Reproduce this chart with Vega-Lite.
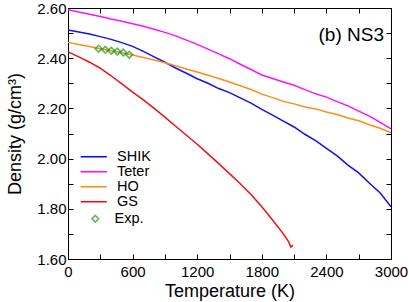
{
  "$schema": "https://vega.github.io/schema/vega-lite/v6.json",
  "width": 323,
  "height": 251,
  "autosize": {"type": "none"},
  "padding": {"left": 68, "top": 8, "right": 18, "bottom": 43},
  "background": "white",
  "config": {
    "font": "Liberation Sans",
    "view": {"stroke": "black", "strokeWidth": 1},
    "axis": {"grid": false, "domainColor": "black", "tickColor": "black", "labelColor": "black", "titleColor": "black", "labelFont": "Liberation Sans", "titleFont": "Liberation Sans", "titleFontWeight": "normal", "labelFontSize": 15, "titleFontSize": 18, "tickSize": -5, "tickWidth": 1, "domainWidth": 1},
    "legend": {"labelFont": "Liberation Sans", "labelFontSize": 14.5, "labelColor": "black"}
  },
  "datasets": {
    "curves": [
      {"model": "SHIK", "T": 0, "d": 2.512}, {"model": "SHIK", "T": 100, "d": 2.504}, {"model": "SHIK", "T": 200, "d": 2.496}, {"model": "SHIK", "T": 300, "d": 2.486}, {"model": "SHIK", "T": 400, "d": 2.475}, {"model": "SHIK", "T": 500, "d": 2.462}, {"model": "SHIK", "T": 600, "d": 2.447}, {"model": "SHIK", "T": 700, "d": 2.427}, {"model": "SHIK", "T": 800, "d": 2.405}, {"model": "SHIK", "T": 900, "d": 2.384}, {"model": "SHIK", "T": 1000, "d": 2.361}, {"model": "SHIK", "T": 1100, "d": 2.340}, {"model": "SHIK", "T": 1200, "d": 2.318}, {"model": "SHIK", "T": 1300, "d": 2.300}, {"model": "SHIK", "T": 1400, "d": 2.279}, {"model": "SHIK", "T": 1500, "d": 2.263}, {"model": "SHIK", "T": 1600, "d": 2.242}, {"model": "SHIK", "T": 1700, "d": 2.221}, {"model": "SHIK", "T": 1800, "d": 2.196}, {"model": "SHIK", "T": 1900, "d": 2.173}, {"model": "SHIK", "T": 2000, "d": 2.149}, {"model": "SHIK", "T": 2100, "d": 2.126}, {"model": "SHIK", "T": 2200, "d": 2.097}, {"model": "SHIK", "T": 2300, "d": 2.072}, {"model": "SHIK", "T": 2400, "d": 2.041}, {"model": "SHIK", "T": 2500, "d": 2.011}, {"model": "SHIK", "T": 2600, "d": 1.974}, {"model": "SHIK", "T": 2700, "d": 1.943}, {"model": "SHIK", "T": 2800, "d": 1.902}, {"model": "SHIK", "T": 2900, "d": 1.863}, {"model": "SHIK", "T": 3000, "d": 1.808},
      {"model": "Teter", "T": 0, "d": 2.593}, {"model": "Teter", "T": 100, "d": 2.584}, {"model": "Teter", "T": 200, "d": 2.575}, {"model": "Teter", "T": 300, "d": 2.566}, {"model": "Teter", "T": 400, "d": 2.556}, {"model": "Teter", "T": 500, "d": 2.547}, {"model": "Teter", "T": 600, "d": 2.537}, {"model": "Teter", "T": 700, "d": 2.527}, {"model": "Teter", "T": 800, "d": 2.515}, {"model": "Teter", "T": 900, "d": 2.503}, {"model": "Teter", "T": 1000, "d": 2.489}, {"model": "Teter", "T": 1100, "d": 2.472}, {"model": "Teter", "T": 1200, "d": 2.455}, {"model": "Teter", "T": 1300, "d": 2.436}, {"model": "Teter", "T": 1400, "d": 2.417}, {"model": "Teter", "T": 1500, "d": 2.398}, {"model": "Teter", "T": 1600, "d": 2.376}, {"model": "Teter", "T": 1700, "d": 2.355}, {"model": "Teter", "T": 1800, "d": 2.333}, {"model": "Teter", "T": 1900, "d": 2.319}, {"model": "Teter", "T": 2000, "d": 2.305}, {"model": "Teter", "T": 2100, "d": 2.292}, {"model": "Teter", "T": 2200, "d": 2.275}, {"model": "Teter", "T": 2300, "d": 2.258}, {"model": "Teter", "T": 2400, "d": 2.245}, {"model": "Teter", "T": 2500, "d": 2.227}, {"model": "Teter", "T": 2600, "d": 2.210}, {"model": "Teter", "T": 2700, "d": 2.189}, {"model": "Teter", "T": 2800, "d": 2.169}, {"model": "Teter", "T": 2900, "d": 2.144}, {"model": "Teter", "T": 3000, "d": 2.118},
      {"model": "HO", "T": 0, "d": 2.463}, {"model": "HO", "T": 100, "d": 2.455}, {"model": "HO", "T": 200, "d": 2.447}, {"model": "HO", "T": 300, "d": 2.438}, {"model": "HO", "T": 400, "d": 2.430}, {"model": "HO", "T": 500, "d": 2.422}, {"model": "HO", "T": 600, "d": 2.413}, {"model": "HO", "T": 700, "d": 2.403}, {"model": "HO", "T": 800, "d": 2.393}, {"model": "HO", "T": 900, "d": 2.382}, {"model": "HO", "T": 1000, "d": 2.370}, {"model": "HO", "T": 1100, "d": 2.357}, {"model": "HO", "T": 1200, "d": 2.345}, {"model": "HO", "T": 1300, "d": 2.332}, {"model": "HO", "T": 1400, "d": 2.319}, {"model": "HO", "T": 1500, "d": 2.305}, {"model": "HO", "T": 1600, "d": 2.290}, {"model": "HO", "T": 1700, "d": 2.275}, {"model": "HO", "T": 1800, "d": 2.257}, {"model": "HO", "T": 1900, "d": 2.243}, {"model": "HO", "T": 2000, "d": 2.228}, {"model": "HO", "T": 2100, "d": 2.218}, {"model": "HO", "T": 2200, "d": 2.206}, {"model": "HO", "T": 2300, "d": 2.198}, {"model": "HO", "T": 2400, "d": 2.186}, {"model": "HO", "T": 2500, "d": 2.176}, {"model": "HO", "T": 2600, "d": 2.162}, {"model": "HO", "T": 2700, "d": 2.151}, {"model": "HO", "T": 2800, "d": 2.135}, {"model": "HO", "T": 2900, "d": 2.121}, {"model": "HO", "T": 3000, "d": 2.103},
      {"model": "GS", "T": 0, "d": 2.425}, {"model": "GS", "T": 100, "d": 2.405}, {"model": "GS", "T": 200, "d": 2.384}, {"model": "GS", "T": 300, "d": 2.360}, {"model": "GS", "T": 400, "d": 2.330}, {"model": "GS", "T": 500, "d": 2.298}, {"model": "GS", "T": 600, "d": 2.265}, {"model": "GS", "T": 700, "d": 2.234}, {"model": "GS", "T": 800, "d": 2.200}, {"model": "GS", "T": 900, "d": 2.165}, {"model": "GS", "T": 1000, "d": 2.129}, {"model": "GS", "T": 1100, "d": 2.093}, {"model": "GS", "T": 1200, "d": 2.057}, {"model": "GS", "T": 1300, "d": 2.019}, {"model": "GS", "T": 1400, "d": 1.980}, {"model": "GS", "T": 1500, "d": 1.940}, {"model": "GS", "T": 1600, "d": 1.900}, {"model": "GS", "T": 1700, "d": 1.857}, {"model": "GS", "T": 1800, "d": 1.808}, {"model": "GS", "T": 1900, "d": 1.755}, {"model": "GS", "T": 2000, "d": 1.700}, {"model": "GS", "T": 2050, "d": 1.668}, {"model": "GS", "T": 2070, "d": 1.648}, {"model": "GS", "T": 2090, "d": 1.655}
    ],
    "exp": [
      {"exp": "Exp.", "T": 284, "d": 2.438}, {"exp": "Exp.", "T": 346, "d": 2.434}, {"exp": "Exp.", "T": 402, "d": 2.430}, {"exp": "Exp.", "T": 457, "d": 2.427}, {"exp": "Exp.", "T": 513, "d": 2.423}, {"exp": "Exp.", "T": 569, "d": 2.414}
    ],
    "label": [{"text": "(b) NS3", "T": 2935, "d": 2.493}]
  },
  "resolve": {"axis": {"x": "independent", "y": "independent"}},
  "layer": [
    {
      "data": {"name": "curves"},
      "mark": {"type": "line", "strokeWidth": 1.5},
      "encoding": {
        "x": {"field": "T", "type": "quantitative", "scale": {"domain": [0, 3000], "nice": false}, "axis": {"orient": "bottom", "title": "Temperature (K)", "values": [0, 300, 600, 900, 1200, 1500, 1800, 2100, 2400, 2700, 3000], "labelExpr": "datum.value % 600 === 0 ? datum.value : ''", "labelPadding": 10, "titlePadding": 3, "labelFlush": false, "labelOverlap": false}},
        "y": {"field": "d", "type": "quantitative", "scale": {"domain": [1.6, 2.6], "nice": false, "zero": false}, "axis": {"orient": "left", "title": "Density (g/cm³)", "values": [1.6, 1.7, 1.8, 1.9, 2.0, 2.1, 2.2, 2.3, 2.4, 2.5, 2.6], "labelExpr": "round(datum.value * 10) % 2 === 0 ? format(datum.value, '.2f') : ''", "labelPadding": 7, "titlePadding": 12, "labelFlush": false, "labelOverlap": false}},
        "color": {"field": "model", "type": "nominal", "sort": ["SHIK", "Teter", "HO", "GS"], "scale": {"domain": ["SHIK", "Teter", "HO", "GS"], "range": ["#1010f0", "#ff10ff", "#ff8c1a", "#f01010"]}, "legend": {"title": null, "orient": "none", "legendX": 18.5, "legendY": 141.5, "symbolType": "M-3.5,0H3.5", "symbolSize": 56, "symbolStrokeWidth": 1.6, "labelOffset": 16, "rowPadding": 0, "padding": 0}}
      }
    },
    {
      "data": {"name": "exp"},
      "mark": {"type": "point", "shape": "diamond", "filled": false, "size": 45, "strokeWidth": 1.6, "color": "#1c9a1c"},
      "encoding": {
        "x": {"field": "T", "type": "quantitative", "axis": null},
        "y": {"field": "d", "type": "quantitative", "axis": null},
        "shape": {"field": "exp", "type": "nominal", "scale": {"domain": ["Exp."], "range": ["diamond"]}, "legend": {"title": null, "orient": "none", "legendX": 20, "legendY": 203.5, "symbolStrokeColor": "#1c9a1c", "symbolFillColor": "transparent", "symbolSize": 45, "symbolStrokeWidth": 1.6, "labelOffset": 12, "padding": 0}}
      }
    },
    {
      "data": {"name": "label"},
      "mark": {"type": "text", "align": "right", "baseline": "middle", "fontSize": 19, "font": "Liberation Sans", "color": "black"},
      "encoding": {
        "x": {"field": "T", "type": "quantitative", "axis": {"orient": "top", "title": null, "labels": false, "domain": false, "values": [0, 300, 600, 900, 1200, 1500, 1800, 2100, 2400, 2700, 3000]}},
        "y": {"field": "d", "type": "quantitative", "axis": {"orient": "right", "title": null, "labels": false, "domain": false, "values": [1.6, 1.7, 1.8, 1.9, 2.0, 2.1, 2.2, 2.3, 2.4, 2.5, 2.6]}},
        "text": {"field": "text"}
      }
    }
  ]
}
